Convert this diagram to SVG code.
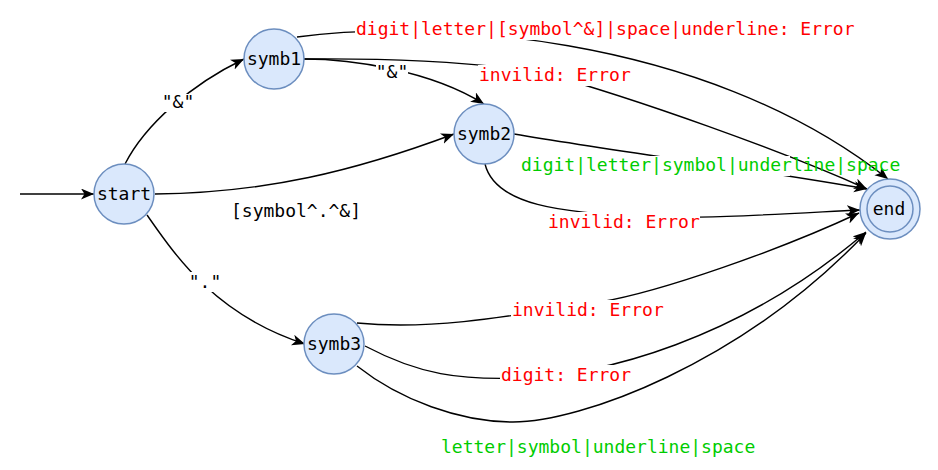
<svg xmlns="http://www.w3.org/2000/svg" width="938" height="470" viewBox="0 0 938 470">
<defs>
<marker id="arr" markerUnits="userSpaceOnUse" markerWidth="14" markerHeight="12" refX="13" refY="5.5" orient="auto">
<path d="M0,0 L13,5.5 L0,11 L3.5,5.5 Z" fill="#000"/>
</marker>
<style>
.node{fill:#dae8fc;stroke:#6c8ebf;stroke-width:1.5}
.edge{fill:none;stroke:#000;stroke-width:1.4;marker-end:url(#arr)}
.t{font-family:"DejaVu Sans Mono","Liberation Mono",monospace;font-size:18px}
.nl{text-anchor:middle;fill:#000}
.red{fill:#ff0000}
.green{fill:#00cc00}
.blk{fill:#000}
.bg{fill:#fff}
</style>
</defs>
<rect width="938" height="470" fill="#fff"/>
<g id="connectors">
<path class="edge" d="M20,194 L94,194"/>
<path class="edge" d="M125,164 C145,125 190,85 244,59"/>
<path class="edge" d="M155,194 C265,193 355,171 454,134"/>
<path class="edge" d="M147,215 C175,255 215,315 305,344"/>
<path class="edge" d="M304,59 C350,59 430,70 484,104"/>
<path class="edge" d="M297,37 C420,20 700,30 888,179"/>
<path class="edge" d="M304,59 C400,58 470,62 540,72 C640,100 780,150 867,189"/>
<path class="edge" d="M514,134 C620,152 760,170 867,189"/>
<path class="edge" d="M485,164 C495,205 560,213 650,217 C700,219 780,214 860,210"/>
<path class="edge" d="M357,323 C430,330 500,318 600,302 C660,292 780,250 859,213"/>
<path class="edge" d="M365,346 C420,375 460,380 520,378 C600,376 740,340 866,232"/>
<path class="edge" d="M357,366 C400,400 460,422 513,422 C580,422 740,365 866,233"/>
</g>
<g id="edge-labels">
<rect class="bg" x="162" y="94" width="33" height="18"/>
<text class="t blk" x="178" y="108" text-anchor="middle">"&amp;"</text>
<text class="t blk" x="231" y="217">[symbol^.^&amp;]</text>
<rect class="bg" x="189" y="272" width="32" height="20"/>
<text class="t blk" x="205" y="288" text-anchor="middle">"."</text>
<rect class="bg" x="376" y="63" width="32" height="19"/>
<text class="t blk" x="392" y="78" text-anchor="middle">"&amp;"</text>
<rect class="bg" x="355" y="19" width="501" height="21"/>
<text class="t red" x="356" y="35">digit|letter|[symbol^&amp;]|space|underline: Error</text>
<rect class="bg" x="478" y="65" width="154" height="21"/>
<text class="t red" x="479" y="81">invilid: Error</text>
<rect class="bg" x="520" y="156" width="270" height="20"/>
<text class="t green" x="521" y="170.5">digit|letter|symbol|underline|space</text>
<rect class="bg" x="546" y="212" width="154" height="21"/>
<text class="t red" x="548" y="228">invilid: Error</text>
<rect class="bg" x="511" y="300" width="153" height="21"/>
<text class="t red" x="512" y="316">invilid: Error</text>
<rect class="bg" x="500" y="365" width="132" height="21"/>
<text class="t red" x="501" y="381">digit: Error</text>
<text class="t green" x="441" y="453">letter|symbol|underline|space</text>
</g>
<g id="node-start">
<circle class="node" cx="124" cy="194" r="30"/>
<text class="t nl" x="124" y="199.5">start</text>
</g>
<g id="node-symb1">
<circle class="node" cx="274" cy="59" r="30"/>
<text class="t nl" x="274" y="64.5">symb1</text>
</g>
<g id="node-symb2">
<circle class="node" cx="484" cy="134" r="30"/>
<text class="t nl" x="484" y="139.5">symb2</text>
</g>
<g id="node-symb3">
<circle class="node" cx="334" cy="344" r="30"/>
<text class="t nl" x="334" y="349.5">symb3</text>
</g>
<g id="node-end">
<circle class="node" cx="890" cy="209" r="30"/>
<circle class="node" cx="890" cy="209" r="23"/>
<text class="t nl" x="889" y="215">end</text>
</g>
</svg>
